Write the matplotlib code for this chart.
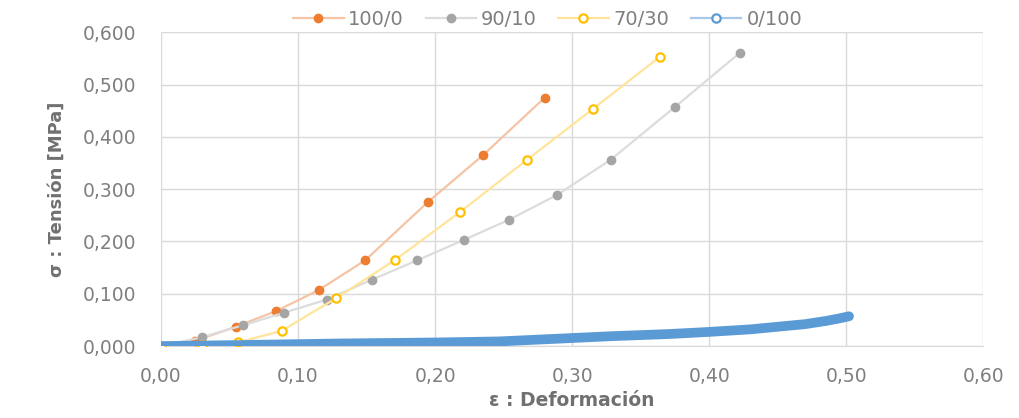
#import the libraries
import matplotlib.pyplot as plt
from matplotlib.ticker import FuncFormatter

# strain / stress readings for each mix
x_100 = [0.000, 0.025, 0.0545, 0.084, 0.115, 0.149, 0.195, 0.235, 0.280]
y_100 = [0.000, 0.010, 0.037, 0.067, 0.107, 0.164, 0.276, 0.365, 0.475]

x_90 = [0.000, 0.030, 0.060, 0.090, 0.121, 0.154, 0.187, 0.221, 0.254, 0.289, 0.328, 0.375, 0.4225]
y_90 = [0.000, 0.017, 0.040, 0.064, 0.089, 0.127, 0.164, 0.203, 0.2415, 0.289, 0.356, 0.457, 0.561]

x_70 = [0.000, 0.030, 0.056, 0.088, 0.128, 0.171, 0.218, 0.267, 0.315, 0.364]
y_70 = [0.000, 0.002, 0.007, 0.029, 0.092, 0.165, 0.256, 0.356, 0.453, 0.553]

x_0 = [0.000, 0.057, 0.130, 0.203, 0.247, 0.280, 0.329, 0.370, 0.399, 0.430, 0.450, 0.470, 0.485, 0.495, 0.502]
y_0 = [0.000, 0.002, 0.005, 0.007, 0.009, 0.013, 0.019, 0.023, 0.027, 0.032, 0.037, 0.042, 0.048, 0.053, 0.057]

labels = ["100/0", "90/10", "70/30", "0/100"]

plt.rcParams['font.family'] = ['DejaVu Sans']

fig = plt.figure(figsize=(10.19, 4.18), dpi=100)
ax = fig.add_axes([0.158, 0.172, 0.807, 0.751])

# line faded, markers solid
ax.plot(x_100, y_100, color="#F4C4A4", lw=1.6, marker="o", ms=6,
        mfc="#ED7D31", mec="#ED7D31", label=labels[0], zorder=3)
ax.plot(x_90, y_90, color="#DCDCDC", lw=1.6, marker="o", ms=6,
        mfc="#A5A5A5", mec="#A5A5A5", label=labels[1], zorder=3)
ax.plot(x_70, y_70, color="#FFE49A", lw=1.6, marker="o", ms=6,
        mfc="white", mec="#FFC000", mew=1.6, label=labels[2], zorder=3)
ax.plot(x_0, y_0, color="#5B9BD5", lw=7, solid_capstyle="round", zorder=4)
# legend handle for the blue series
ax.plot([], [], color="#A9C8E8", lw=1.6, marker="o", ms=6,
        mfc="white", mec="#5B9BD5", mew=1.6, label=labels[3])

ax.set_xlim(0, 0.6)
ax.set_ylim(0, 0.6)
ax.set_xticks([0, 0.1, 0.2, 0.3, 0.4, 0.5, 0.6])
ax.set_yticks([0, 0.1, 0.2, 0.3, 0.4, 0.5, 0.6])
ax.xaxis.set_major_formatter(FuncFormatter(lambda v, p: f"{v:.2f}".replace(".", ",")))
ax.yaxis.set_major_formatter(FuncFormatter(lambda v, p: f"{v:.3f}".replace(".", ",")))
ax.tick_params(length=0, labelsize=13.5, colors="#7F7F7F")
ax.tick_params(axis="x", pad=15)
ax.tick_params(axis="y", pad=18)
ax.grid(True, color="#D9D9D9", lw=1)
ax.set_axisbelow(True)
for s in ["top", "right", "left"]:
    ax.spines[s].set_visible(False)
ax.spines["bottom"].set_color("#D9D9D9")

ax.set_xlabel("ε : Deformación", fontsize=13.5, fontweight="bold", color="#707070", labelpad=4)
ax.set_ylabel("σ : Tensión [MPa]", fontsize=13, fontweight="bold", color="#707070", labelpad=12)

ax.legend(loc="lower center", bbox_to_anchor=(0.47, 0.985), ncol=4, frameon=False,
          fontsize=14, labelcolor="#7F7F7F", handlelength=2.6, columnspacing=1.1,
          handletextpad=0.25, borderaxespad=0)

plt.savefig("out.png")
